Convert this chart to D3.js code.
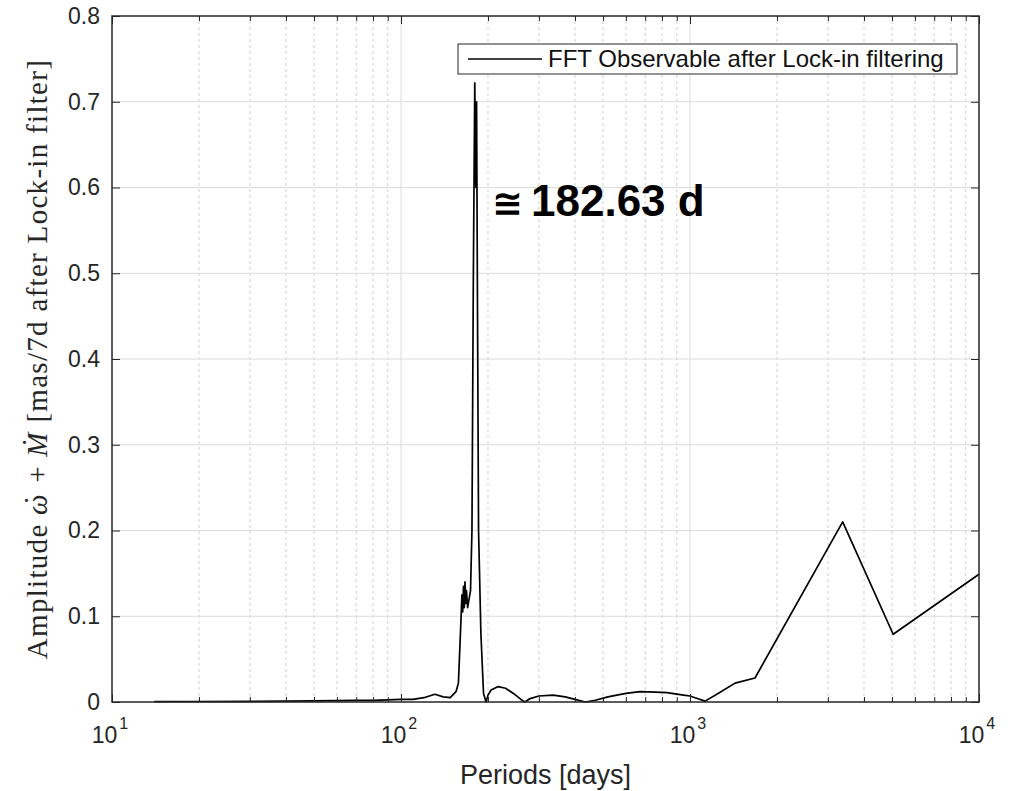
<!DOCTYPE html>
<html>
<head>
<meta charset="utf-8">
<script src="https://cdn.jsdelivr.net/npm/d3@7"></script>
<style>
  body { margin: 0; background: #fff; }
  svg { display: block; }
</style>
</head>
<body>
<div id="chart"></div>
<script>
// periods in days
const periods = [14, 20, 30, 40, 50, 60, 70, 80, 90, 100, 110, 120, 131, 140, 148, 155, 158,
  161, 162.5, 163.5, 164.5, 165.5, 166.5, 167.5, 168.5, 170, 172, 174, 176, 178, 180, 181.5, 182.6,
  184, 185.5, 189, 193, 197, 200, 205, 217, 230, 245, 260, 268, 280, 300, 336, 370, 400, 434,
  470, 520, 600, 671, 760, 832, 950, 1000, 1060, 1128, 1250, 1432, 1678, 3375, 5047, 10000];
const amplitude = [0.0005, 0.0006, 0.0008, 0.001, 0.0012, 0.0015, 0.0018, 0.002, 0.0025, 0.003, 0.003, 0.005, 0.009, 0.006, 0.005, 0.012, 0.022,
  0.09, 0.125, 0.105, 0.135, 0.11, 0.14, 0.115, 0.13, 0.11, 0.12, 0.13, 0.2, 0.5, 0.722, 0.6, 0.70,
  0.45, 0.2, 0.08, 0.01, 0.0, 0.008, 0.014, 0.018, 0.016, 0.01, 0.003, 0.0, 0.004, 0.007, 0.008, 0.006, 0.003, 0.0,
  0.002, 0.006, 0.01, 0.012, 0.0115, 0.011, 0.008, 0.007, 0.004, 0.001, 0.01, 0.022, 0.028, 0.21, 0.079, 0.149];

const xMajor = [10, 100, 1000, 10000];
const xExp = ['1', '2', '3', '4'];
const yTicks = [0, 0.1, 0.2, 0.3, 0.4, 0.5, 0.6, 0.7, 0.8];

const W = 1013, H = 791;
const margin = { t: 16, r: 34, b: 89, l: 112 };
const axisColor = '#262626';

const data = periods.map((p, i) => ({ p: p, a: amplitude[i] }));

const x = d3.scaleLog().domain([10, 10000]).range([margin.l, W - margin.r]);
const y = d3.scaleLinear().domain([0, 0.8]).range([H - margin.b, margin.t]);

// minor ticks 2..9 of each decade
const xMinor = [];
xMajor.slice(0, -1).forEach(d => {
  for (let k = 2; k <= 9; k++) xMinor.push(d * k);
});

const svg = d3.select('#chart').append('svg')
  .attr('width', W)
  .attr('height', H);

// grid
const grid = svg.append('g').attr('class', 'grid');
grid.selectAll('.minor')
  .data(xMinor)
  .enter().append('line')
  .attr('x1', d => x(d)).attr('x2', d => x(d))
  .attr('y1', y(0)).attr('y2', y(0.8))
  .attr('stroke', '#d0d0d0')
  .attr('stroke-dasharray', '3,3');
grid.selectAll('.vmajor')
  .data(xMajor.slice(1, -1))
  .enter().append('line')
  .attr('x1', d => x(d)).attr('x2', d => x(d))
  .attr('y1', y(0)).attr('y2', y(0.8))
  .attr('stroke', '#dcdcdc');
grid.selectAll('.hmajor')
  .data(yTicks.slice(1, -1))
  .enter().append('line')
  .attr('x1', x(10)).attr('x2', x(10000))
  .attr('y1', d => y(d)).attr('y2', d => y(d))
  .attr('stroke', '#dcdcdc');

// data line
const line = d3.line()
  .x(d => x(d.p))
  .y(d => y(d.a));

svg.append('path')
  .datum(data)
  .attr('d', line)
  .attr('fill', 'none')
  .attr('stroke', '#000')
  .attr('stroke-width', 1.7)
  .attr('stroke-linejoin', 'round');

// axes, ticks pointing inward
function styleAxis(g) {
  g.select('.domain').remove();
  g.selectAll('line').attr('stroke', axisColor);
}

svg.append('g').attr('transform', `translate(0,${y(0)})`)
  .call(d3.axisBottom(x).tickValues(xMajor).tickSize(-8).tickFormat(''))
  .call(styleAxis);
svg.append('g').attr('transform', `translate(0,${y(0)})`)
  .call(d3.axisBottom(x).tickValues(xMinor).tickSize(-5).tickFormat(''))
  .call(styleAxis);
svg.append('g').attr('transform', `translate(0,${y(0.8)})`)
  .call(d3.axisTop(x).tickValues(xMajor).tickSize(-8).tickFormat(''))
  .call(styleAxis);
svg.append('g').attr('transform', `translate(0,${y(0.8)})`)
  .call(d3.axisTop(x).tickValues(xMinor).tickSize(-5).tickFormat(''))
  .call(styleAxis);

const yAxis = svg.append('g').attr('transform', `translate(${x(10)},0)`)
  .call(d3.axisLeft(y).tickValues(yTicks).tickSize(-8).tickPadding(12).tickFormat(d => d === 0 ? '0' : d3.format('.1f')(d)))
  .call(styleAxis);
yAxis.selectAll('text')
  .attr('font-family', 'Liberation Sans, Arial, sans-serif')
  .attr('font-size', 23)
  .attr('fill', axisColor);

svg.append('g').attr('transform', `translate(${x(10000)},0)`)
  .call(d3.axisRight(y).tickValues(yTicks).tickSize(-8).tickFormat(''))
  .call(styleAxis);

// box
svg.append('rect')
  .attr('x', x(10)).attr('y', y(0.8))
  .attr('width', x(10000) - x(10))
  .attr('height', y(0) - y(0.8))
  .attr('fill', 'none')
  .attr('stroke', axisColor)
  .attr('stroke-width', 1.5);

// x tick labels with exponents
const xl = svg.append('g')
  .attr('font-family', 'Liberation Sans, Arial, sans-serif')
  .attr('fill', axisColor);
xMajor.forEach((d, i) => {
  const t = xl.append('text')
    .attr('x', x(d) - 2)
    .attr('y', 743)
    .attr('text-anchor', 'middle')
    .attr('font-size', 23);
  t.append('tspan').text('10');
  t.append('tspan').attr('dx', 2).attr('dy', -14).attr('font-size', 16).text(xExp[i]);
});

// axis titles
svg.append('text')
  .attr('x', (x(10) + x(10000)) / 2)
  .attr('y', 784)
  .attr('text-anchor', 'middle')
  .attr('font-family', 'Liberation Sans, Arial, sans-serif')
  .attr('font-size', 27)
  .attr('fill', axisColor)
  .text('Periods [days]');

const yl = svg.append('text')
  .attr('transform', `translate(47,${(y(0) + y(0.8)) / 2}) rotate(-90)`)
  .attr('text-anchor', 'middle')
  .attr('font-family', 'Liberation Serif, Times New Roman, serif')
  .attr('font-size', 29)
  .attr('letter-spacing', 1.3)
  .attr('fill', axisColor);
yl.append('tspan').text('Amplitude ');
yl.append('tspan').attr('font-style', 'italic').text('\u03C9');
yl.append('tspan').attr('dx', '-0.42em').attr('dy', -2).text('\u02D9');
yl.append('tspan').attr('dx', '0.1em').attr('dy', 2).text(' + ');
yl.append('tspan').attr('font-style', 'italic').text('\u1E40');
yl.append('tspan').text(' [mas/7d after Lock-in filter]');

// legend
const lg = svg.append('g');
lg.append('rect')
  .attr('x', 458).attr('y', 44)
  .attr('width', 499).attr('height', 30)
  .attr('fill', '#fff')
  .attr('stroke', axisColor);
lg.append('line')
  .attr('x1', 468).attr('x2', 542)
  .attr('y1', 59).attr('y2', 59)
  .attr('stroke', '#000')
  .attr('stroke-width', 1.6);
lg.append('text')
  .attr('x', 548).attr('y', 67)
  .attr('font-family', 'Liberation Sans, Arial, sans-serif')
  .attr('font-size', 24)
  .attr('fill', '#111')
  .text('FFT Observable after Lock-in filtering');

// peak annotation
const ann = svg.append('text')
  .attr('x', 492).attr('y', 216)
  .attr('font-family', 'Liberation Sans, Arial, sans-serif')
  .attr('font-weight', 'bold')
  .attr('font-size', 44)
  .attr('fill', '#000');
ann.append('tspan').attr('font-family', 'DejaVu Sans, sans-serif').attr('font-size', 37).text('\u2245');
ann.append('tspan').attr('dx', 8).text('182.63 d');
</script>
</body>
</html>
